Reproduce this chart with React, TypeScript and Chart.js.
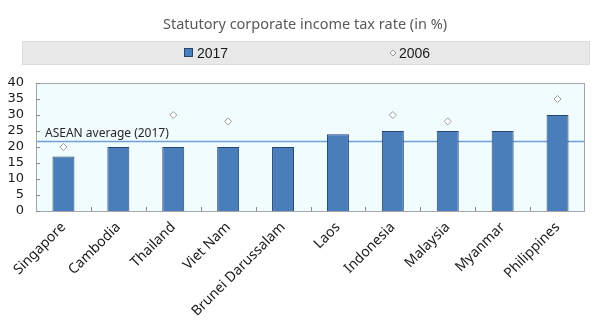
import React, { useEffect, useRef } from "react";
import { Chart, registerables } from "chart.js";

Chart.register(...registerables);

const titleText = "Statutory corporate income tax rate (in %)";
const categories = [
  "Singapore",
  "Cambodia",
  "Thailand",
  "Viet Nam",
  "Brunei Darussalam",
  "Laos",
  "Indonesia",
  "Malaysia",
  "Myanmar",
  "Philippines",
];
const rate2017 = [17, 20, 20, 20, 20, 24, 25, 25, 25, 30];
const rate2006 = [20, null, 30, 28, null, null, 30, 28, null, 35];
const seriesLabels = ["2017", "2006"];
const aseanAverage2017 = 21.7;
const aseanLabel = "ASEAN average (2017)";
const yMin = 0;
const yMax = 40;
const yStep = 5;

const BAR_FILL = "#4a7ebb";
const BAR_BORDER = "#27466e";
const AVG_LINE = "#6f9fd4";

const decorPlugin = {
  id: "decor",
  beforeDatasetsDraw(chart: any) {
    const { ctx, chartArea, scales } = chart;
    const { left, right, top, bottom } = chartArea;
    ctx.save();
    ctx.fillStyle = "#f1fcfe";
    ctx.fillRect(left, top, right - left, bottom - top);
    const y = scales.y.getPixelForValue(aseanAverage2017);
    ctx.strokeStyle = AVG_LINE;
    ctx.lineWidth = 1.5;
    ctx.beginPath();
    ctx.moveTo(left, y);
    ctx.lineTo(right, y);
    ctx.stroke();
    ctx.fillStyle = "#262626";
    ctx.font = "12px 'Noto Sans'";
    ctx.textAlign = "left";
    ctx.textBaseline = "alphabetic";
    ctx.fillText(aseanLabel, left + 9, y - 5);
    ctx.restore();
  },
  afterDatasetsDraw(chart: any) {
    const { ctx, chartArea, scales } = chart;
    const { left, right, top, bottom } = chartArea;
    ctx.save();
    ctx.strokeStyle = "#a6a6a6";
    ctx.lineWidth = 1;
    ctx.strokeRect(Math.round(left) + 0.5, Math.round(top) + 0.5, Math.round(right - left) - 1, Math.round(bottom - top));
    ctx.strokeStyle = "#8c8c8c";
    ctx.beginPath();
    for (let v = yMin; v <= yMax; v += yStep) {
      const py = Math.round(scales.y.getPixelForValue(v)) + 0.5;
      ctx.moveTo(left, py);
      ctx.lineTo(left + 4, py);
    }
    const xs = scales.x;
    for (let i = 1; i < categories.length; i++) {
      const px = Math.round((xs.getPixelForValue(i - 1) + xs.getPixelForValue(i)) / 2) + 0.5;
      ctx.moveTo(px, bottom);
      ctx.lineTo(px, bottom - 4);
    }
    ctx.stroke();
    ctx.restore();
  },
  afterDraw(chart: any) {
    const { ctx, chartArea } = chart;
    ctx.save();
    ctx.font = "14.5px 'Noto Sans'";
    ctx.fillStyle = "#595959";
    ctx.textAlign = "center";
    ctx.textBaseline = "middle";
    ctx.fillText(titleText, 305, 25);
    const boxTop = chartArea.top - 42;
    const boxH = 24;
    ctx.fillStyle = "#e8e8e8";
    ctx.fillRect(22, boxTop, 568, boxH);
    ctx.strokeStyle = "#dcdcdc";
    ctx.strokeRect(22.5, boxTop + 0.5, 567, boxH - 1);
    const cy = boxTop + boxH / 2;
    ctx.font = "14px 'Liberation Sans'";
    ctx.textBaseline = "middle";
    ctx.textAlign = "left";
    ctx.fillStyle = BAR_FILL;
    ctx.fillRect(184, cy - 5, 9, 9);
    ctx.strokeStyle = BAR_BORDER;
    ctx.strokeRect(184.5, cy - 4.5, 8, 8);
    ctx.fillStyle = "#1a1a1a";
    ctx.fillText(chart.data.datasets[0].label, 197, cy + 1);
    ctx.fillStyle = "#ffffff";
    ctx.strokeStyle = "#9a9a9a";
    ctx.beginPath();
    ctx.moveTo(393, cy - 3);
    ctx.lineTo(396, cy);
    ctx.lineTo(393, cy + 3);
    ctx.lineTo(390, cy);
    ctx.closePath();
    ctx.fill();
    ctx.stroke();
    ctx.fillStyle = "#1a1a1a";
    ctx.fillText(chart.data.datasets[1].label, 399, cy + 1);
    ctx.restore();
  },
};

export default function App() {
  const canvasRef = useRef<HTMLCanvasElement | null>(null);

  useEffect(() => {
    if (!canvasRef.current) return;
    const chart = new Chart(canvasRef.current, {
      type: "bar",
      data: {
        labels: categories,
        datasets: [
          {
            type: "bar",
            label: seriesLabels[0],
            data: rate2017,
            backgroundColor: BAR_FILL,
            borderColor: BAR_BORDER,
            borderWidth: 1,
            barPercentage: 0.4,
            categoryPercentage: 1,
            order: 1,
          },
          {
            type: "line",
            label: seriesLabels[1],
            data: rate2006 as any,
            showLine: false,
            pointStyle: "rectRot",
            pointRadius: 3.5,
            pointBackgroundColor: "#ffffff",
            pointBorderColor: "#9a9a9a",
            pointBorderWidth: 1,
            order: 0,
          },
        ],
      },
      options: {
        responsive: false,
        animation: false,
        devicePixelRatio: 1,
        layout: { padding: { left: 6, right: 15, top: 83, bottom: 0 } },
        plugins: {
          legend: { display: false },
          tooltip: { enabled: false },
          title: { display: false },
        },
        scales: {
          x: {
            type: "category",
            offset: true,
            grid: { display: false, drawTicks: false, tickLength: 0 },
            border: { display: false },
            afterFit: (scale: any) => {
              scale.paddingLeft = 0;
              scale.paddingRight = 0;
              scale.height = 119;
            },
            ticks: {
              autoSkip: false,
              minRotation: 45,
              maxRotation: 45,
              color: "#1a1a1a",
              font: { family: "'Noto Sans'", size: 14 },
              padding: 8,
            },
          },
          y: {
            min: yMin,
            max: yMax,
            grid: { display: false, drawTicks: false, tickLength: 0 },
            border: { display: false },
            afterFit: (scale: any) => {
              scale.paddingTop = 0;
              scale.paddingBottom = 0;
              scale.width = 30;
            },
            ticks: {
              stepSize: yStep,
              autoSkip: false,
              color: "#1a1a1a",
              font: { family: "'DejaVu Sans'", size: 13 },
              padding: 12,
            },
          },
        },
      },
      plugins: [decorPlugin],
    });
    return () => chart.destroy();
  }, []);

  return (
    <div style={{ position: "fixed", left: 0, top: 0, width: 600, height: 330, background: "#ffffff" }}>
      <canvas ref={canvasRef} width={600} height={330} style={{ width: 600, height: 330 }} />
    </div>
  );
}
